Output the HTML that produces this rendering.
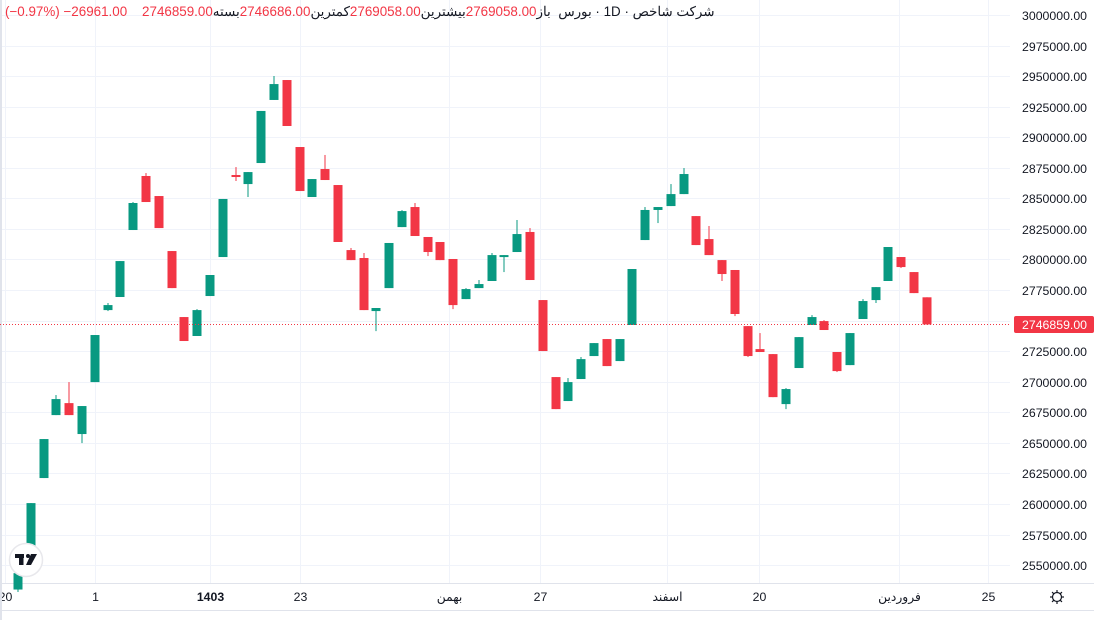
<!DOCTYPE html>
<html dir="ltr"><head><meta charset="utf-8">
<style>
html,body{margin:0;padding:0;background:#fff;width:1104px;height:620px;overflow:hidden}
body{font-family:"Liberation Sans","Noto Sans CJK SC",sans-serif}
#hdr{position:absolute;left:5px;top:4px;font-size:13.4px;color:#131722;display:flex;white-space:pre;direction:ltr}
#hdr span{display:block;unicode-bidi:isolate}
.r{color:#f23645}
</style></head><body>
<svg id="chart" width="1104" height="620" style="position:absolute;left:0;top:0" font-family="Liberation Sans, DejaVu Sans, sans-serif"></svg>
<div id="hdr">
<span class="r">(</span><span class="r">−</span><span class="r">0.97%</span><span class="r">)</span><span class="r"> </span><span class="r">−</span><span class="r">26961.00</span><span class="r">    </span><span class="r">2746859.00</span><span>بسته</span><span class="r">2746686.00</span><span>کمترین</span><span class="r">2769058.00</span><span>بیشترین</span><span class="r">2769058.00</span><span>باز</span><span>  </span><span>بورس</span><span> · </span><span>1D</span><span> · </span><span>شرکت شاخص</span>
</div>
<script>
const opens  = [2530000,2554100,2621200,2672700,2682500,2657200,2699700,2758600,2769300,2824100,2868300,2851900,2806900,2752900,2737400,2770100,2802000,2869100,2861700,2878900,2930500,2946800,2892000,2851100,2874000,2860900,2807700,2801200,2757800,2776600,2826500,2842900,2818400,2814300,2800400,2767600,2776600,2782400,2802000,2806100,2822500,2766800,2703800,2684200,2702200,2721000,2734900,2716900,2746400,2815900,2840500,2843700,2853500,2835500,2816700,2799500,2791400,2745500,2726700,2722600,2681700,2711200,2746400,2749600,2724300,2713600,2751300,2766800,2782400,2802000,2789700,2769058];
const highs  = [2543400,2600700,2653100,2689100,2699700,2680100,2738200,2764400,2798700,2847000,2870700,2851900,2806900,2752900,2759400,2787300,2849500,2875600,2871500,2921500,2950100,2946800,2892000,2865800,2885500,2860900,2809400,2805300,2760300,2813500,2840400,2846200,2818400,2814300,2800400,2776600,2783200,2805300,2803600,2832300,2825700,2766800,2703800,2703000,2720200,2731600,2734900,2734900,2792200,2842900,2842900,2861700,2874800,2835500,2827400,2799500,2791400,2745500,2739800,2722600,2694800,2736500,2754500,2750400,2724300,2739800,2767600,2777400,2810200,2802000,2789700,2769058];
const lows   = [2528000,2554100,2621200,2672700,2672700,2649800,2699700,2757800,2769300,2824100,2847000,2825700,2776600,2733300,2737400,2770100,2802000,2864200,2851100,2878900,2930500,2909200,2856000,2851100,2865000,2814300,2799500,2758600,2741400,2776600,2826500,2819200,2802800,2799500,2759400,2767600,2776600,2782400,2789700,2806100,2783200,2725100,2677600,2684200,2702200,2721000,2712800,2716900,2746400,2815900,2829800,2843700,2853500,2811800,2803600,2782400,2753700,2720200,2724300,2687400,2677600,2711200,2746400,2742300,2707900,2713600,2751300,2764400,2782400,2793000,2772500,2746686];
const closes = [2543400,2600700,2653100,2685800,2672700,2680100,2738200,2762700,2798700,2846200,2847000,2825700,2776600,2733300,2758600,2787300,2849500,2867500,2871500,2921500,2943500,2909200,2856000,2865800,2865000,2814300,2799500,2758600,2760300,2813500,2839600,2819200,2806100,2799500,2762700,2775800,2779900,2803600,2803600,2820800,2783200,2725100,2677600,2699700,2718500,2731600,2712800,2734900,2792200,2840500,2842900,2853500,2869900,2811800,2803600,2788100,2755400,2721000,2724300,2687400,2694000,2736500,2752900,2742300,2708700,2739800,2766000,2777400,2810200,2793800,2772500,2746859];
const priceTicks = [3000000,2975000,2950000,2925000,2900000,2875000,2850000,2825000,2800000,2775000,2750000,2725000,2700000,2675000,2650000,2625000,2600000,2575000,2550000];
const timeLabels = ["20","1","1403","23","بهمن","27","اسفند","20","فروردین","25"];
const timeLabelIdx = [-1,6,15,22,33.7,40.8,50.7,57.9,68.8,75.8];
const lastPrice = 2746859;

const NS="http://www.w3.org/2000/svg";
const svg=document.getElementById('chart');
const yScale=p=>15+(3000000-p)/25000*30.56;
const xScale=i=>18+i*12.8;
const PW=1010, PB=583;
function mk(t,a,parent){const e=document.createElementNS(NS,t);for(const k in a)e.setAttribute(k,a[k]);(parent||svg).appendChild(e);return e;}

const grid=mk('g',{});


priceTicks.forEach(p=>{
  const y=Math.round(yScale(p))+0.5;
  const l=mk('line',{x1:0,x2:PW,y1:y,y2:y,stroke:'#f0f3fa','stroke-width':1},grid);
  
  
  const t=mk('text',{x:1087,y:y+4.5,'text-anchor':'end','font-size':12.3,fill:'#131722'});
  t.textContent=p.toFixed(2);
  
  
});
timeLabels.forEach((s,k)=>{
  const x=Math.round(xScale(timeLabelIdx[k]))+0.5;
  const l=mk('line',{x1:x,x2:x,y1:0,y2:PB,stroke:'#f0f3fa','stroke-width':1},grid);
  
  
  const t=mk('text',{x:x,y:601,'text-anchor':'middle','font-size':12.3,fill:'#131722','font-weight':s==='1403'?'bold':'normal','font-family':'Liberation Sans, Noto Sans CJK SC, DejaVu Sans, sans-serif'});
  t.textContent=s;
  
  
});
let e;
e=mk('line',{x1:0,x2:1094,y1:583.5,y2:583.5,stroke:'#e0e3eb'});


e=mk('line',{x1:0,x2:1094,y1:610.5,y2:610.5,stroke:'#e0e3eb'});


e=mk('rect',{x:0,y:0,width:2,height:620,fill:'#e0e3eb'});



const cg=mk('g',{});


for(let i=0;i<opens.length;i++){
  const up=closes[i]>=opens[i], col=up?'#089981':'#f23645';
  const x=Math.round(xScale(i));
  const g=mk('g',{},cg);
  
  
  const w=mk('rect',{x:x-0.5,y:yScale(highs[i]),width:1,height:Math.max(1,yScale(lows[i])-yScale(highs[i])),fill:col},g);
  
  
  const top=yScale(Math.max(opens[i],closes[i])), bot=yScale(Math.min(opens[i],closes[i]));
  const b=mk('rect',{x:x-4.5,y:top,width:9,height:Math.max(2,bot-top),fill:col},g);
  
  
}
const ly=Math.round(yScale(lastPrice))+0.5;
e=mk('line',{x1:0,x2:PW,y1:ly,y2:ly,stroke:'#f23645','stroke-width':1,'stroke-dasharray':'1 2'});


e=mk('rect',{x:1014,y:ly-8.5,width:80,height:17,rx:2,fill:'#f23645'});


e=mk('text',{x:1087,y:ly+4.5,'text-anchor':'end','font-size':12.3,fill:'#fff'});
e.textContent=lastPrice.toFixed(2);



const gear=mk('g',{transform:'translate(1057,597)',stroke:'#131722','stroke-width':1.2,fill:'none'});


mk('circle',{r:4.5},gear);
for(let a=0;a<8;a++){const r=a*Math.PI/4;mk('line',{x1:4.5*Math.cos(r),y1:4.5*Math.sin(r),x2:7*Math.cos(r),y2:7*Math.sin(r)},gear);}

const logo=mk('g',{});


mk('circle',{cx:26,cy:560,r:16.5,fill:'#fff',stroke:'#e8e8ec','stroke-width':1.5},logo);
mk('rect',{x:15,y:554,width:9,height:4,fill:'#131722'},logo);
mk('rect',{x:19,y:554,width:4.5,height:11,fill:'#131722'},logo);
mk('circle',{cx:28,cy:556,r:2,fill:'#131722'},logo);
mk('polygon',{points:'31,554 37,554 31,565 26,565',fill:'#131722'},logo);
</script>
</body></html>
